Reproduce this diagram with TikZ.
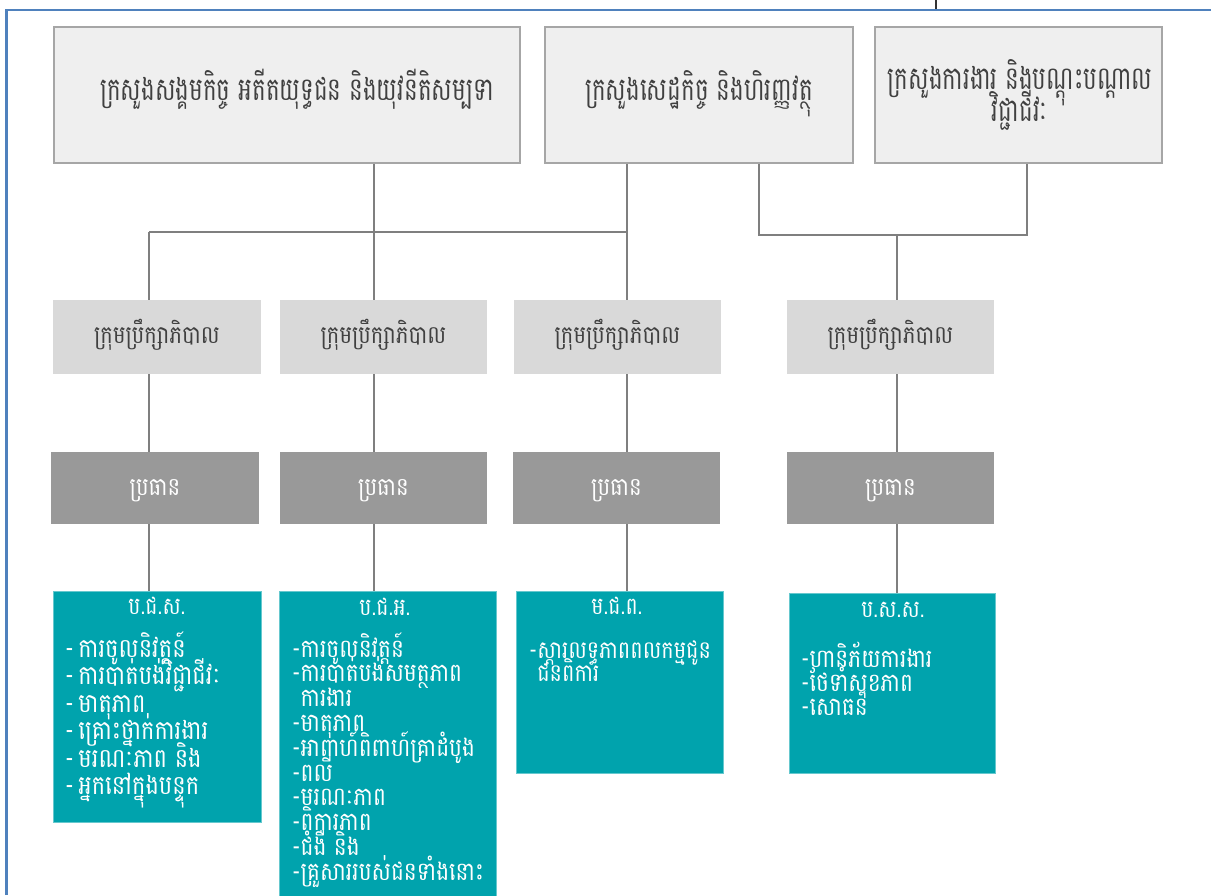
\documentclass[tikz,border=0pt]{standalone}
\usepackage{fontspec}
\newfontfamily\khtop[Script=Khmer,FakeStretch=0.72]{Battambang}
\newfontfamily\kh[Script=Khmer,FakeStretch=0.85]{Battambang}
\definecolor{framecol}{HTML}{4F81BD}
\definecolor{topfill}{HTML}{EFEFEF}
\definecolor{topline}{HTML}{A6A6A6}
\definecolor{comfill}{HTML}{D9D9D9}
\definecolor{chairfill}{HTML}{999999}
\definecolor{tealfill}{HTML}{00A3AD}
\definecolor{linkcol}{HTML}{7F7F7F}
\definecolor{txtcol}{HTML}{404040}
\begin{document}
\begin{tikzpicture}[x=1pt,y=-1pt,
  topbox/.style={draw=topline,line width=1.5pt,fill=topfill,inner sep=0pt,minimum height=136pt},
  toptxt/.style={anchor=base,inner sep=0pt,text=txtcol,font=\khtop\fontsize{32}{36}\selectfont},
  combox/.style={fill=comfill,inner sep=0pt,minimum width=207pt,minimum height=74pt},
  comtxt/.style={anchor=base,inner sep=0pt,text=txtcol,font=\kh\fontsize{24.8}{28}\selectfont},
  chairbox/.style={fill=chairfill,inner sep=0pt,minimum width=207pt,minimum height=72pt},
  chairtxt/.style={anchor=base,inner sep=0pt,text=white,font=\kh\fontsize{25}{28}\selectfont},
  tealbox/.style={fill=tealfill,draw=tealfill!60!white,line width=0.6pt,inner sep=0pt,minimum width=207pt},
  tealtitle/.style={text=white,font=\kh\fontsize{24}{28}\selectfont,anchor=base,inner sep=0pt},
  teallist/.style={text=white,anchor=base west,inner sep=0pt},
  link/.style={draw=linkcol,line width=2pt}]
\useasboundingbox (0,0) rectangle (1211,895);
% frame
\draw[framecol,line width=2.2pt] (6.5,895) -- (6.5,10) -- (1211,10);
\draw[black!80,line width=1.6pt] (936,0) -- (936,9);
% top boxes
\node[topbox,minimum width=466pt] (A) at (287,95) {};
\node[topbox,minimum width=308pt] (B) at (699,95) {};
\node[topbox,minimum width=287pt] (C) at (1018.5,95) {};
\node[toptxt] (Atx) at (297,100) {ក្រសួងសង្គមកិច្ច អតីតយុទ្ធជន និងយុវនីតិសម្បទា};
\node[toptxt] (Btx) at (699,100) {ក្រសួងសេដ្ឋកិច្ច និងហិរញ្ញវត្ថុ};
\node[toptxt] (Ctx1) at (1020,89) {ក្រសួងការងារ និងបណ្តុះបណ្តាល};
\node[toptxt] (Ctx2) at (1020,121) {វិជ្ជាជីវៈ};
% committees
\node[combox,minimum width=208pt] (c1) at (157,337) {};
\node[combox] (c2) at (383.5,337) {};
\node[combox] (c3) at (617.5,337) {};
\node[combox] (c4) at (890.5,337) {};
\foreach \n/\x in {c1/157,c2/383.5,c3/617.5,c4/890.5}
  \node[comtxt] (\n tx) at (\x,343) {ក្រុមប្រឹក្សាភិបាល};
% chairs
\node[chairbox,minimum width=208pt] (h1) at (155,488) {};
\node[chairbox] (h2) at (383.5,488) {};
\node[chairbox] (h3) at (616.5,488) {};
\node[chairbox] (h4) at (890.5,488) {};
\foreach \n/\x in {h1/155,h2/383.5,h3/616.5,h4/890.5}
  \node[chairtxt] (\n tx) at (\x,495) {ប្រធាន};
% teal boxes
\node[tealbox,minimum width=208pt,minimum height=231pt] (t1) at (157,706.5) {};
\node[tealbox,minimum width=217pt,minimum height=320pt] (t2) at (387.5,751) {};
\node[tealbox,minimum height=182pt] (t3) at (619.5,682) {};
\node[tealbox,minimum width=206pt,minimum height=180pt] (t4) at (892,683) {};
% teal texts
\node[tealtitle] (t1h) at (157,614) {ប.ជ.ស.};
\foreach [count=\i] \s in {-\,ការចូលនិវត្តន៍,-\,ការបាត់បង់វិជ្ជាជីវៈ,-\,មាតុភាព,-\,គ្រោះថ្នាក់ការងារ,-\,មរណៈភាព និង,-\,អ្នកនៅក្នុងបន្ទុក}
  \node[teallist,font=\kh\fontsize{26.5}{30}\selectfont] (t1l\i) at (65,{657+27.5*(\i-1)}) {\s};
\node[tealtitle] (t2h) at (385,615) {ប.ជ.អ.};
\foreach [count=\i] \s in {-ការចូលនិវត្តន៍,-ការបាត់បង់សមត្ថភាព,\phantom{-}ការងារ,-មាតុភាព,-អាពាហ៍ពិពាហ៍គ្រាដំបូង,-ពលី,-មរណៈភាព,-ពិការភាព,-ជំងឺ និង,-គ្រួសាររបស់ជនទាំងនោះ}
  \node[teallist,font=\kh\fontsize{25.5}{28}\selectfont] (t2l\i) at (292,{657+24.8*(\i-1)}) {\s};
\node[tealtitle] (t3h) at (617,614) {ម.ជ.ព.};
\foreach [count=\i] \s in {-ស្តារលទ្ធភាពពលកម្មជូន,\phantom{-}ជនពិការ}
  \node[teallist,font=\kh\fontsize{24.5}{28}\selectfont] (t3l\i) at (529,{658+23*(\i-1)}) {\s};
\node[tealtitle] (t4h) at (893,617) {ប.ស.ស.};
\foreach [count=\i] \s in {-ហានិភ័យការងារ,-ថែទាំសុខភាព,-សោធន៍}
  \node[teallist,font=\kh\fontsize{25.5}{28}\selectfont] (t4l\i) at (801,{667+24*(\i-1)}) {\s};
% connector x positions
\coordinate (x1) at (149,0);
\coordinate (x2) at (374,0);
\coordinate (x3) at (627,0);
\coordinate (x4) at (897,0);
\coordinate (xb) at (759,0);
\coordinate (xc) at (1027,0);
\coordinate (ya) at (0,232);
\coordinate (yb) at (0,235);
% connectors from ministries
\draw[link] (A.south -| x2) -- (c2.north -| x2);
\draw[link] (B.south -| x3) -- (c3.north -| x3);
\draw[link] (x1 |- ya) -- (x3 |- ya);
\draw[link] (c1.north -| x1) -- (x1 |- ya);
\draw[link] (B.south -| xb) -- (xb |- yb) -- (xc |- yb) -- (C.south -| xc);
\draw[link] (x4 |- yb) -- (c4.north -| x4);
% committee -> chair -> fund
\foreach \c/\h/\t/\x in {c1/h1/t1/x1,c2/h2/t2/x2,c3/h3/t3/x3,c4/h4/t4/x4}{
  \draw[link] (\c.south -| \x) -- (\h.north -| \x);
  \draw[link] (\h.south -| \x) -- (\t.north -| \x);
}
\end{tikzpicture}
\end{document}
